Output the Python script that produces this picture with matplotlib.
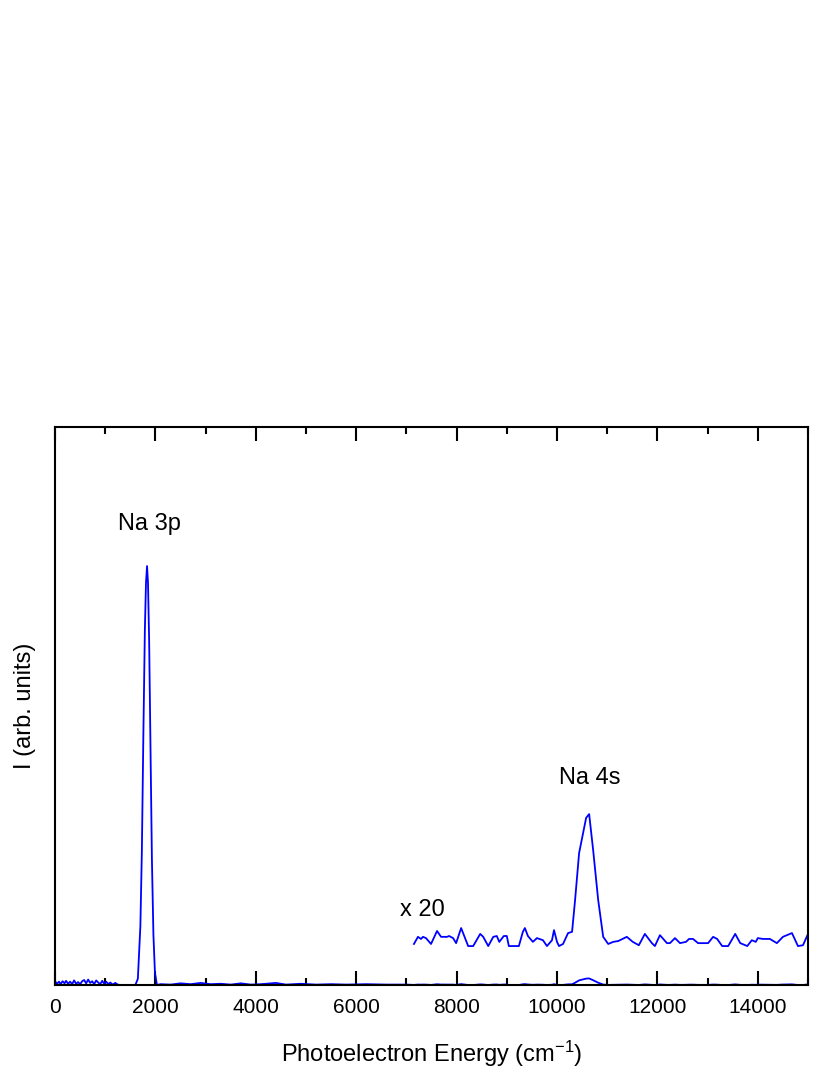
import matplotlib
matplotlib.use("Agg")
import matplotlib.pyplot as plt
from matplotlib.ticker import MultipleLocator

plt.rcParams["font.family"] = ["Liberation Sans", "DejaVu Sans"]
plt.rcParams["mathtext.default"] = "regular"

# photoelectron spectrum, raw trace below 7150 cm-1 (3p peak = 100)
low_energy = [0, 40, 80, 110, 150, 190, 220, 260, 300, 340, 380, 420, 460, 500, 540,
              580, 620, 660, 700, 740, 780, 820, 860, 900, 940, 980, 1020, 1060, 1100,
              1150, 1200, 1250, 1300, 1600, 1650, 1700, 1730, 1760, 1790, 1812, 1833,
              1852, 1875, 1900, 1930, 1960, 1990, 2030, 2100, 2300, 2500, 2700, 2900,
              3100, 3300, 3500, 3700, 3900, 4100, 4400, 4600, 4900, 5200, 5500, 5800,
              6200, 6600, 7000]
low_intensity = [0.9, 0.3, 0.8, 0.2, 0.9, 0.4, 1.0, 0.3, 0.8, 0.2, 1.1, 0.3, 0.7, 0.2, 0.9,
                 1.2, 0.4, 1.3, 0.5, 0.9, 0.2, 1.1, 0.6, 0.2, 1.0, 0.3, 0.8, 0.2, 0.6,
                 0.1, 0.5, 0.1, 0.0, 0.0, 1.5, 14, 32, 60, 85, 96, 100,
                 96, 82, 58, 30, 12, 3, 0.0, 0.2, 0.1, 0.4, 0.2, 0.5,
                 0.2, 0.3, 0.1, 0.4, 0.1, 0.2, 0.5, 0.1, 0.3, 0.1, 0.2, 0.1,
                 0.2, 0.1, 0.1]

# x20 magnified trace (offset up)
zoom_energy = [7150, 7230, 7290, 7330, 7390, 7490, 7610, 7690, 7810, 7850, 7930, 7990,
               8090, 8230, 8330, 8470, 8530, 8630, 8730, 8800, 8850, 8940, 9000, 9040,
               9240, 9320, 9360, 9420, 9520, 9600, 9720, 9800, 9900, 9940, 10000, 10040,
               10120, 10220, 10300, 10360, 10440, 10520, 10580, 10640, 10720, 10820, 10920,
               11020, 11120, 11220, 11390, 11510, 11630, 11750, 11890, 11950, 12050, 12190,
               12250, 12350, 12450, 12570, 12630, 12710, 12810, 12910, 13010, 13110, 13190,
               13290, 13410, 13550, 13650, 13790, 13880, 13960, 14000, 14100, 14240, 14380,
               14500, 14680, 14800, 14900, 15000]
zoom_intensity = [9.8, 11.5, 11.0, 11.5, 11.2, 9.8, 12.9, 11.5, 11.5, 11.7, 11.2, 10.0,
                  13.6, 9.3, 9.3, 12.2, 11.5, 9.3, 11.5, 11.7, 10.3, 11.7, 11.7, 9.3,
                  9.3, 12.7, 13.6, 11.7, 10.3, 11.2, 10.7, 9.3, 10.7, 13.1, 10.3, 9.3,
                  9.8, 12.4, 12.7, 20.3, 31.5, 36.3, 39.9, 40.8, 32.2, 20.3, 11.5,
                  9.8, 10.3, 10.5, 11.5, 10.3, 9.5, 12.2, 10.0, 9.3, 11.9, 10.0,
                  10.0, 11.2, 10.0, 10.3, 11.0, 11.0, 10.0, 10.0, 10.0, 11.5, 11.0,
                  9.3, 9.3, 12.2, 10.0, 9.3, 10.7, 10.3, 11.2, 11.0, 11.0, 10.0,
                  11.5, 12.4, 9.3, 9.5, 12.2]
zoom_offset = 9.3
zoom_factor = 20

raw_energy = low_energy + zoom_energy
raw_intensity = low_intensity + [(v - zoom_offset) / zoom_factor for v in zoom_intensity]

fig = plt.figure(figsize=(8.3, 10.75), dpi=100)
ax = fig.add_axes([0.0663, 0.0837, 0.9072, 0.5191])

ax.plot(raw_energy, raw_intensity, color="#0000ff", lw=1.3)
ax.plot(zoom_energy, zoom_intensity, color="#0000ff", lw=1.3)

ax.text(1890, 110, "Na 3p", fontsize=17, ha="center", va="center")
ax.text(10650, 49.4, "Na 4s", fontsize=17, ha="center", va="center")
ax.text(7310, 18, "x 20", fontsize=17, ha="center", va="center")

ax.set_xlim(0, 15000)
ax.set_ylim(0, 133.2)
ax.xaxis.set_major_locator(MultipleLocator(2000))
ax.xaxis.set_minor_locator(MultipleLocator(1000))
ax.tick_params(axis="x", which="both", direction="in", top=True, width=1.5, labelsize=15, pad=9)
ax.tick_params(axis="x", which="major", length=10)
ax.tick_params(axis="x", which="minor", length=5)
ax.set_yticks([])
for s in ax.spines.values():
    s.set_linewidth(1.5)

ax.set_xlabel("Photoelectron Energy (cm$^{-1}$)", fontsize=17, labelpad=16)
ax.set_ylabel("I (arb. units)", fontsize=17, labelpad=14)

fig.savefig("out.png", dpi=100)
